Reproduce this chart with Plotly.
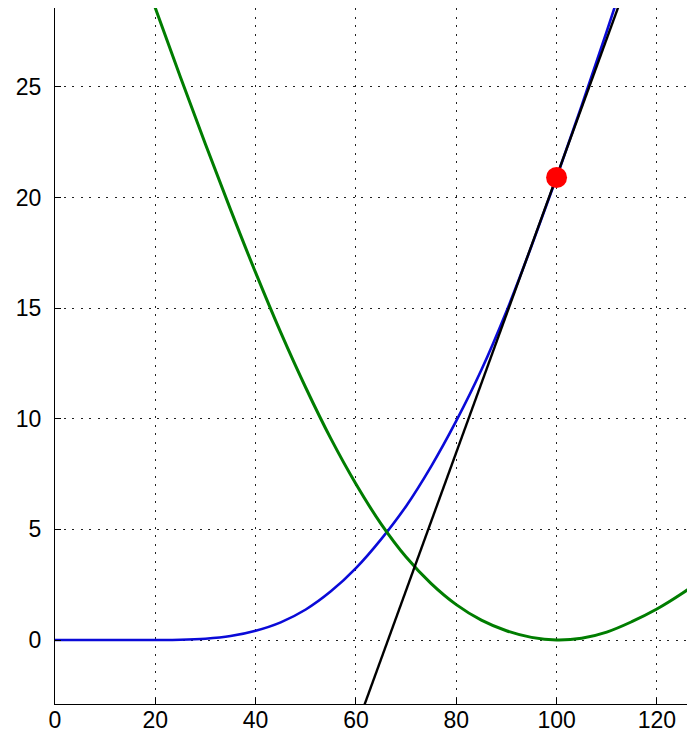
import plotly.graph_objects as go

# Blue curve
blue_x = [0, 10, 20, 25, 30, 35, 40, 45, 50, 55, 60, 65, 70, 75, 80, 85, 90, 95, 100, 105, 110, 115, 120]
blue_y = [0, 0, 0, 0.01, 0.06, 0.18, 0.42, 0.8, 1.38, 2.2, 3.25, 4.55, 6.05, 7.85, 9.9, 12.2, 14.85, 17.8, 20.9, 24.15, 27.5, 30.95, 34.5]

# Green curve
green_x = [15, 20, 25, 30, 35, 40, 45, 50, 55, 60, 65, 70, 75, 80, 85, 90, 95, 100, 105, 110, 115, 120, 125, 130]
green_y = [31.75, 28.56, 25.44, 22.4, 19.45, 16.6, 13.9, 11.4, 9.1, 7.05, 5.25, 3.75, 2.55, 1.6, 0.9, 0.42, 0.12, 0.0, 0.08, 0.36, 0.83, 1.4, 2.1, 2.9]

# Black tangent line
line_x = [55, 120]
line_y = [-7.1, 33.4]

# Red point
pt_x = [100]
pt_y = [20.9]

x_ticks = [0, 20, 40, 60, 80, 100, 120]
y_ticks = [0, 5, 10, 15, 20, 25]

fig = go.Figure()
fig.add_trace(go.Scatter(x=blue_x, y=blue_y, mode="lines",
                         line=dict(color="#0a0ad8", width=2.6, shape="spline"), showlegend=False))
fig.add_trace(go.Scatter(x=green_x, y=green_y, mode="lines",
                         line=dict(color="#007d00", width=3, shape="spline"), showlegend=False))
fig.add_trace(go.Scatter(x=line_x, y=line_y, mode="lines",
                         line=dict(color="black", width=2.4), showlegend=False))
fig.add_trace(go.Scatter(x=pt_x, y=pt_y, mode="markers",
                         marker=dict(color="#ff0000", size=21, line=dict(width=0)), showlegend=False))
# right-side tick marks only
fig.add_trace(go.Scatter(x=[None], y=[None], yaxis="y2", showlegend=False, hoverinfo="skip"))

font = dict(family="Liberation Sans, Arial, sans-serif", size=23, color="black")
grid = dict(showgrid=True, gridcolor="#222222", gridwidth=1, griddash="2px,6.5px")

# page body adds an 8px margin, so the figure is sized to compensate
fig.update_layout(
    width=687, height=737,
    margin=dict(l=47, r=0, t=0, b=41),
    paper_bgcolor="white", plot_bgcolor="white",
    font=font,
    xaxis=dict(range=[0, 127.6], tickvals=x_ticks, ticktext=[str(v) for v in x_ticks],
               ticks="inside", ticklen=6, tickcolor="black", tickwidth=1,
               showline=True, linecolor="black", linewidth=1.3, mirror=True,
               zeroline=False, tickfont=font, ticklabelstandoff=-5, **grid),
    yaxis=dict(range=[-2.89, 28.56], tickvals=y_ticks, ticktext=[str(v) for v in y_ticks],
               ticks="inside", ticklen=6, tickcolor="black", tickwidth=1,
               showline=True, linecolor="black", linewidth=1.3, mirror=False,
               zeroline=False, tickfont=font, ticklabelstandoff=8, **grid),
    yaxis2=dict(range=[-2.89, 28.56], tickvals=y_ticks, overlaying="y", side="right",
                ticks="inside", ticklen=6, tickcolor="black", showticklabels=False,
                showline=False, showgrid=False, zeroline=False),
)

fig.write_html("out.html")
